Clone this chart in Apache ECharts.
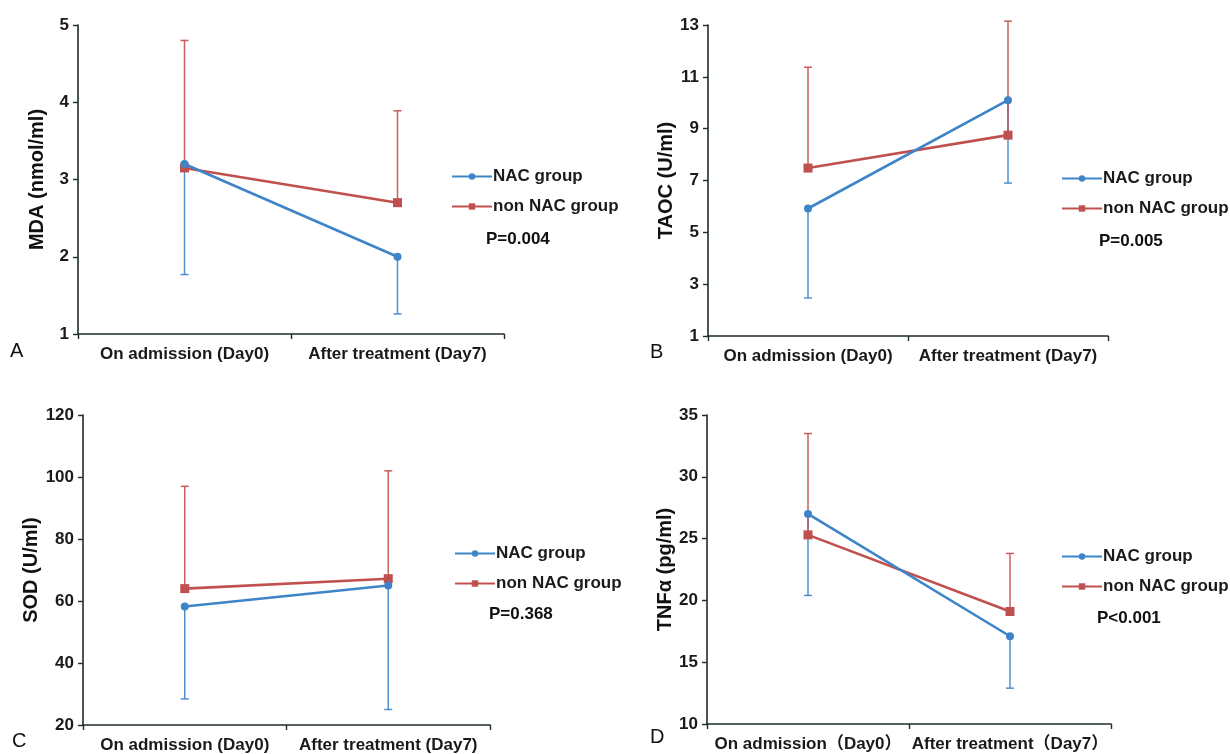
<!DOCTYPE html>
<html>
<head>
<meta charset="utf-8">
<script src="https://cdn.jsdelivr.net/npm/echarts@6/dist/echarts.min.js"></script>
<style>
html,body{margin:0;padding:0;background:#ffffff;}
#chart{width:1230px;height:754px;}
</style>
</head>
<body>
<div id="chart"></div>
<script>
// ---------- data ----------
const categories = ['On admission (Day0)', 'After treatment (Day7)'];
const categoriesD = ['On admission\uFF08Day0\uFF09', 'After treatment\uFF08Day7\uFF09'];
const seriesNames = ['NAC group', 'non NAC group'];

const mdaNAC = [3.2, 2.0];
const mdaNon = [3.15, 2.7];
const mdaNACLower = [1.77, 1.26];
const mdaNonUpper = [4.8, 3.89];

const taocNAC = [5.92, 10.1];
const taocNon = [7.48, 8.75];
const taocNACLower = [2.47, 6.9];
const taocNonUpper = [11.37, 13.15];

const sodNAC = [58.2, 65];
const sodNon = [64, 67.2];
const sodNACLower = [28.4, 25];
const sodNonUpper = [97, 102];

const tnfNAC = [27, 17.1];
const tnfNon = [25.3, 19.1];
const tnfNACLower = [20.4, 12.9];
const tnfNonUpper = [33.5, 23.8];

const yTitles = ['MDA (nmol/ml)', 'TAOC (U/ml)', 'SOD (U/ml)', 'TNF\u03B1 (pg/ml)'];
const pValues = ['P=0.004', 'P=0.005', 'P=0.368', 'P<0.001'];
const panelLetters = ['A', 'B', 'C', 'D'];
const yMin = [1, 1, 20, 10];
const yMax = [5, 13, 120, 35];
const yStep = [1, 2, 20, 5];

// ---------- style / layout ----------
const BLUE = '#3D85C8';
const RED = '#C0504D';
const AXIS = '#1E2B2B';
const NARROW = '"Liberation Sans Narrow", "Liberation Sans", Arial, "Noto Sans CJK SC", sans-serif';
const SANS = '"Liberation Sans", Arial, "Noto Sans CJK SC", sans-serif';

const panels = [
  {grid:{left:78, top:25, width:426, height:309}, cats:categories, nac:mdaNAC, non:mdaNon, lo:mdaNACLower, hi:mdaNonUpper,
   legend:{left:446, top:162}, p:[486, 241], letter:[10, 352]},
  {grid:{left:708, top:25, width:400, height:311}, cats:categories, nac:taocNAC, non:taocNon, lo:taocNACLower, hi:taocNonUpper,
   legend:{left:1056, top:164}, p:[1099, 243], letter:[650, 353]},
  {grid:{left:83, top:415, width:407, height:312}, cats:categories, nac:sodNAC, non:sodNon, lo:sodNACLower, hi:sodNonUpper,
   legend:{left:449, top:539}, p:[489, 616], letter:[12, 742]},
  {grid:{left:707, top:415, width:404, height:309}, cats:categoriesD, nac:tnfNAC, non:tnfNon, lo:tnfNACLower, hi:tnfNonUpper,
   legend:{left:1056, top:542}, p:[1097, 620], letter:[650, 738]}
];

function errRender(params, api) {
  const x = api.value(0), v = api.value(1), e = api.value(2);
  const p0 = api.coord([x, v]);
  const p1 = api.coord([x, e]);
  const color = api.visual('color');
  const cap = 4;
  return {
    type: 'group',
    children: [
      {type:'line', shape:{x1:p0[0], y1:p0[1], x2:p1[0], y2:p1[1]}, style:{stroke:color, lineWidth:1.5, opacity:0.9}},
      {type:'line', shape:{x1:p1[0]-cap, y1:p1[1], x2:p1[0]+cap, y2:p1[1]}, style:{stroke:color, lineWidth:1.5, opacity:0.9}}
    ]
  };
}

const option = {
  backgroundColor: '#ffffff',
  animation: false,
  grid: [], xAxis: [], yAxis: [], series: [], legend: [], graphic: []
};

panels.forEach((pn, i) => {
  option.grid.push(Object.assign({containLabel:false}, pn.grid));
  option.xAxis.push({
    type:'category', gridIndex:i, data:pn.cats, boundaryGap:true,
    axisLine:{lineStyle:{color:AXIS, width:1.6}},
    axisTick:{show:true, length:5, lineStyle:{color:AXIS, width:1.4}},
    axisLabel:{color:'#1a1a1a', fontFamily:NARROW, fontWeight:'bold', fontSize:17, margin:12, interval:0}
  });
  option.yAxis.push({
    type:'value', gridIndex:i, min:yMin[i], max:yMax[i], interval:yStep[i],
    name:yTitles[i], nameLocation:'middle', nameGap:31,
    nameTextStyle:{color:'#111', fontFamily:SANS, fontWeight:'bold', fontSize:20},
    axisLine:{show:true, lineStyle:{color:AXIS, width:1.6}},
    axisTick:{show:true, length:5, lineStyle:{color:AXIS, width:1.4}},
    splitLine:{show:false},
    axisLabel:{color:'#1a1a1a', fontFamily:NARROW, fontWeight:'bold', fontSize:17, margin:9}
  });
  // error bars (behind lines)
  option.series.push({
    type:'custom', name:'nacErr'+i, xAxisIndex:i, yAxisIndex:i, color:BLUE, z:1,
    renderItem:errRender, encode:{x:0, y:[1,2]},
    data: pn.nac.map((v, k) => [k, v, pn.lo[k]])
  });
  option.series.push({
    type:'custom', name:'nonErr'+i, xAxisIndex:i, yAxisIndex:i, color:RED, z:1,
    renderItem:errRender, encode:{x:0, y:[1,2]},
    data: pn.non.map((v, k) => [k, v, pn.hi[k]])
  });
  option.series.push({
    type:'line', name:seriesNames[1], xAxisIndex:i, yAxisIndex:i, data:pn.non, color:RED, z:3,
    symbol:'rect', symbolSize:9, lineStyle:{width:2.6, color:RED}, itemStyle:{color:RED}
  });
  option.series.push({
    type:'line', name:seriesNames[0], xAxisIndex:i, yAxisIndex:i, data:pn.nac, color:BLUE, z:4,
    symbol:'circle', symbolSize:8, lineStyle:{width:2.6, color:BLUE}, itemStyle:{color:BLUE}
  });
  option.legend.push({
    orient:'vertical', left:pn.legend.left, top:pn.legend.top,
    data:[seriesNames[0], seriesNames[1]],
    itemWidth:40, itemHeight:8, itemGap:11,
    selectedMode:false,
    textStyle:{color:'#1a1a1a', fontFamily:NARROW, fontWeight:'bold', fontSize:17, lineHeight:19, padding:[0,0,0,-4]}
  });
  option.graphic.push({
    type:'text', left:pn.p[0], top:pn.p[1]-10,
    style:{text:pValues[i], fill:'#111', font:'bold 17px ' + SANS}
  });
  option.graphic.push({
    type:'text', left:pn.letter[0], top:pn.letter[1]-11,
    style:{text:panelLetters[i], fill:'#111', font:'20px ' + SANS}
  });
});

const chart = echarts.init(document.getElementById('chart'), null, {renderer:'canvas'});
chart.setOption(option);
</script>
</body>
</html>
